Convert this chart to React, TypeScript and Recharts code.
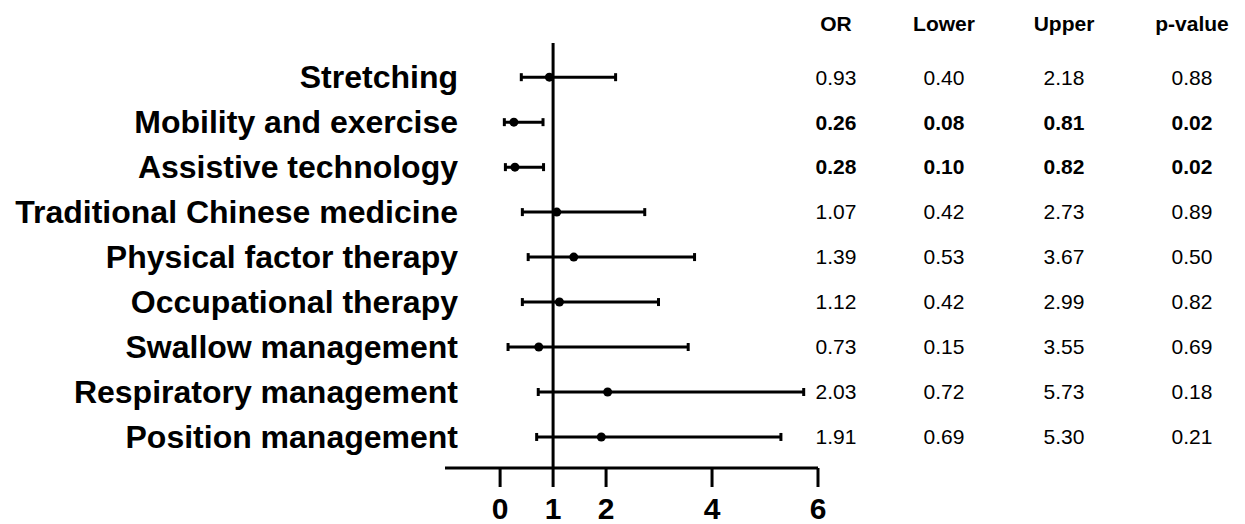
import { ScatterChart, Scatter, XAxis, YAxis, ErrorBar, ReferenceLine } from "recharts";

const categories = [
  "Stretching",
  "Mobility and exercise",
  "Assistive technology",
  "Traditional Chinese medicine",
  "Physical factor therapy",
  "Occupational therapy",
  "Swallow management",
  "Respiratory management",
  "Position management",
];
const oddsRatios = [0.93, 0.26, 0.28, 1.07, 1.39, 1.12, 0.73, 2.03, 1.91];
const lowerCI = [0.4, 0.08, 0.1, 0.42, 0.53, 0.42, 0.15, 0.72, 0.69];
const upperCI = [2.18, 0.81, 0.82, 2.73, 3.67, 2.99, 3.55, 5.73, 5.3];
const pValues = [0.88, 0.02, 0.02, 0.89, 0.5, 0.82, 0.69, 0.18, 0.21];
const xTicks = [0, 1, 2, 4, 6];
const tableHeaders = ["OR", "Lower", "Upper", "p-value"];

const FONT = "Arial, 'Liberation Sans', Helvetica, sans-serif";
// centre of each table column, in chart pixels
const COLUMN_X = [836, 944, 1064, 1192];

const rows = categories.map((name, i) => ({
  name,
  row: categories.length - i,
  or: oddsRatios[i],
  err: [oddsRatios[i] - lowerCI[i], upperCI[i] - oddsRatios[i]],
  lower: lowerCI[i],
  upper: upperCI[i],
  p: pValues[i],
}));
const rowTicks = rows.map((r) => r.row);
const rowByPos = new Map(rows.map((r) => [r.row, r]));

function CategoryTick(props: any) {
  const r = rowByPos.get(props.payload?.value);
  if (!r) return null;
  return (
    <text
      x={458}
      y={props.y}
      dy="0.35em"
      textAnchor="end"
      fontFamily={FONT}
      fontWeight="bold"
      fontSize={32}
      fill="#000"
    >
      {r.name}
    </text>
  );
}

function TableTick(props: any) {
  const r = rowByPos.get(props.payload?.value);
  if (!r) return null;
  const bold = r.p < 0.05;
  const cells = [r.or, r.lower, r.upper, r.p].map((v) => v.toFixed(2));
  return (
    <g>
      {cells.map((c, k) => (
        <text
          key={k}
          x={COLUMN_X[k]}
          y={props.y}
          dy="0.35em"
          textAnchor="middle"
          fontFamily={FONT}
          fontWeight={bold ? "bold" : "normal"}
          fontSize={21}
          fill="#000"
        >
          {c}
        </text>
      ))}
    </g>
  );
}

function TableHeader() {
  return (
    <g>
      {tableHeaders.map((h, k) => (
        <text
          key={h}
          x={COLUMN_X[k]}
          y={31}
          textAnchor="middle"
          fontFamily={FONT}
          fontWeight="bold"
          fontSize={21}
          fill="#000"
        >
          {h}
        </text>
      ))}
    </g>
  );
}

export default function App() {
  return (
    <div style={{ position: "absolute", left: 0, top: 0, background: "#fff" }}>
      <ScatterChart width={1245} height={524} margin={{ top: 43, right: 0, bottom: 0, left: 0 }}>
        <XAxis
          type="number"
          dataKey="or"
          domain={[-1.04, 6]}
          allowDataOverflow
          ticks={xTicks}
          interval={0}
          height={56}
          tickSize={19}
          tickMargin={11}
          axisLine={{ stroke: "#000", strokeWidth: 3 }}
          tickLine={{ stroke: "#000", strokeWidth: 3 }}
          tick={{ fill: "#000", fontSize: 30, fontWeight: "bold", fontFamily: FONT }}
        />
        <YAxis
          yAxisId="left"
          type="number"
          dataKey="row"
          domain={[0.31, 9.76]}
          allowDataOverflow
          ticks={rowTicks}
          interval={0}
          width={445}
          axisLine={false}
          tickLine={false}
          tick={<CategoryTick />}
        />
        <YAxis
          yAxisId="right"
          orientation="right"
          type="number"
          domain={[0.31, 9.76]}
          allowDataOverflow
          ticks={rowTicks}
          interval={0}
          width={427}
          axisLine={false}
          tickLine={false}
          tick={<TableTick />}
        />
        <ReferenceLine x={1} yAxisId="left" stroke="#000" strokeWidth={3} />
        <Scatter
          yAxisId="left"
          data={rows}
          fill="#000"
          isAnimationActive={false}
          shape={(p: any) => <circle cx={p.cx} cy={p.cy} r={4.5} fill="#000" />}
        >
          <ErrorBar dataKey="err" direction="x" width={4} strokeWidth={3} stroke="#000" />
        </Scatter>
        <TableHeader />
      </ScatterChart>
    </div>
  );
}
